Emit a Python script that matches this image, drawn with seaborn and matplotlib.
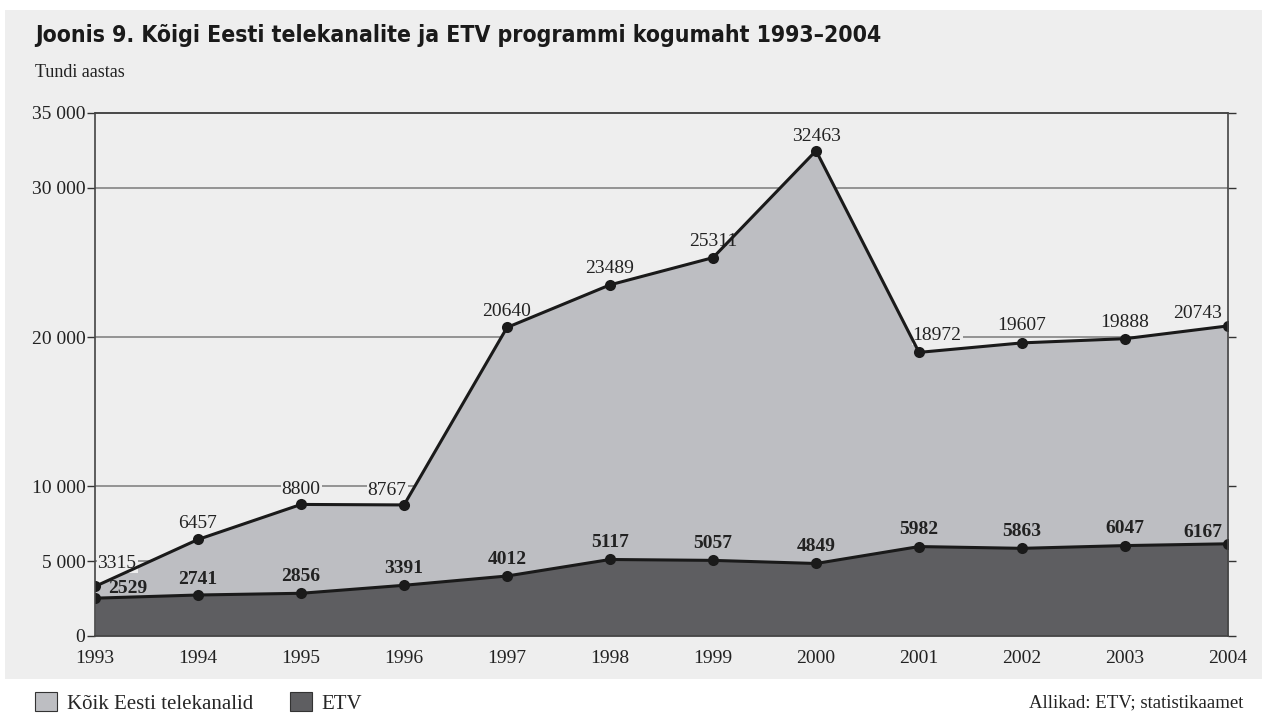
import matplotlib
matplotlib.use("Agg")
import matplotlib.pyplot as plt
import seaborn as sns
import pandas as pd
from matplotlib.patches import Patch, Rectangle

years = [1993, 1994, 1995, 1996, 1997, 1998, 1999, 2000, 2001, 2002, 2003, 2004]
koik = [3315, 6457, 8800, 8767, 20640, 23489, 25311, 32463, 18972, 19607, 19888, 20743]
etv = [2529, 2741, 2856, 3391, 4012, 5117, 5057, 4849, 5982, 5863, 6047, 6167]
yticks = [0, 5000, 10000, 20000, 30000, 35000]
ytick_labels = ["0", "5 000", "10 000", "20 000", "30 000", "35 000"]

BG = "#eeeeee"
LIGHT = "#bdbec2"
DARK = "#5e5e61"
LINE = "#1a1a1a"
SERIF = ["Liberation Serif", "DejaVu Serif"]

sns.set_style("white")
plt.rcParams["font.family"] = SERIF

df = pd.DataFrame({"year": years, "koik": koik, "etv": etv})

fig = plt.figure(figsize=(12.62, 7.17), dpi=100)
fig.patches.append(Rectangle((0.004, 0.053), 0.996, 0.933, transform=fig.transFigure,
                             facecolor=BG, edgecolor="none", zorder=-10))

ax = fig.add_axes([0.0753, 0.113, 0.8978, 0.7297])
ax.set_facecolor(BG)

ax.fill_between(df["year"], 0, df["koik"], color=LIGHT, zorder=2, linewidth=0)
ax.fill_between(df["year"], 0, df["etv"], color=DARK, zorder=3, linewidth=0)
sns.lineplot(data=df, x="year", y="koik", ax=ax, color=LINE, linewidth=2.2,
             marker="o", markersize=8, markeredgewidth=0, zorder=4)
sns.lineplot(data=df, x="year", y="etv", ax=ax, color=LINE, linewidth=2.2,
             marker="o", markersize=8, markeredgewidth=0, zorder=4)

for y in [5000, 10000, 20000, 30000]:
    ax.axhline(y, color="#8c8c8c", linewidth=1.3, zorder=1)
ax.axhline(35000, color="#3a3a3a", linewidth=1.3, zorder=1, clip_on=False)

ax.set_xlim(1993, 2004)
ax.set_ylim(0, 35000)
ax.set_xticks(years)
ax.set_xticklabels([str(y) for y in years])
ax.set_yticks(yticks)
ax.set_yticklabels(ytick_labels)
ax.tick_params(axis="both", direction="out", length=6, width=1, color="#333333",
               labelsize=14, labelcolor="#222222")
ax.tick_params(axis="x", pad=4)
ax.tick_params(axis="y", right=True, left=True, pad=1)
ax.set_xlabel("")
ax.set_ylabel("")
ax.spines["top"].set_visible(False)
for side in ["left", "right", "bottom"]:
    ax.spines[side].set_color("#444444")
    ax.spines[side].set_linewidth(1.2)
    ax.spines[side].set_zorder(5)

# label centre offsets in pixels (dx, dy)
koik_off = [(22, 23), (0, 16), (0, 15), (-17, 14), (0, 16), (0, 16), (0, 16), (0, 14),
            (18, 17), (0, 17), (0, 16), (-30, 12)]
koik_box = [True, True, True, True, False, False, False, False, True, True, True, False]
etv_off = [(33, 10), (0, 16), (0, 17), (0, 17), (0, 17), (0, 17), (0, 17), (0, 17),
           (0, 17), (0, 17), (0, 17), (-25, 11)]

for x, v, (dx, dy), box in zip(years, koik, koik_off, koik_box):
    ax.annotate(str(v), (x, v), xytext=(dx, dy), textcoords="offset pixels",
                ha="center", va="center", fontsize=14, color="#222222", zorder=3.5,
                bbox=dict(boxstyle="square,pad=0.05",
                          facecolor=BG if box else "none", edgecolor="none"))
for x, v, (dx, dy) in zip(years, etv, etv_off):
    ax.annotate(str(v), (x, v), xytext=(dx, dy), textcoords="offset pixels",
                ha="center", va="center", fontsize=14, fontweight="bold",
                color="#222222", zorder=6)

fig.text(0.028, 0.951, "Joonis 9. Kõigi Eesti telekanalite ja ETV programmi kogumaht 1993–2004",
         fontsize=16.5, fontweight="bold", fontstretch="condensed",
         family=["DejaVu Sans"], color="#1a1a1a", ha="left", va="center")
fig.text(0.028, 0.899, "Tundi aastas", fontsize=13, color="#222222", ha="left", va="center")

handles = [Patch(facecolor=LIGHT, edgecolor="#333333", linewidth=0.8),
           Patch(facecolor=DARK, edgecolor="#333333", linewidth=0.8)]
fig.legend(handles, ["Kõik Eesti telekanalid", "ETV"], loc="center left",
           bbox_to_anchor=(0.028, 0.0195), ncol=2, frameon=False, fontsize=15,
           handlelength=1.05, handleheight=1.05, handletextpad=0.45, columnspacing=1.8,
           borderpad=0, borderaxespad=0)
fig.text(0.985, 0.0195, "Allikad: ETV; statistikaamet", fontsize=13.5, color="#222222",
         ha="right", va="center")

fig.savefig("out.png", dpi=100)
